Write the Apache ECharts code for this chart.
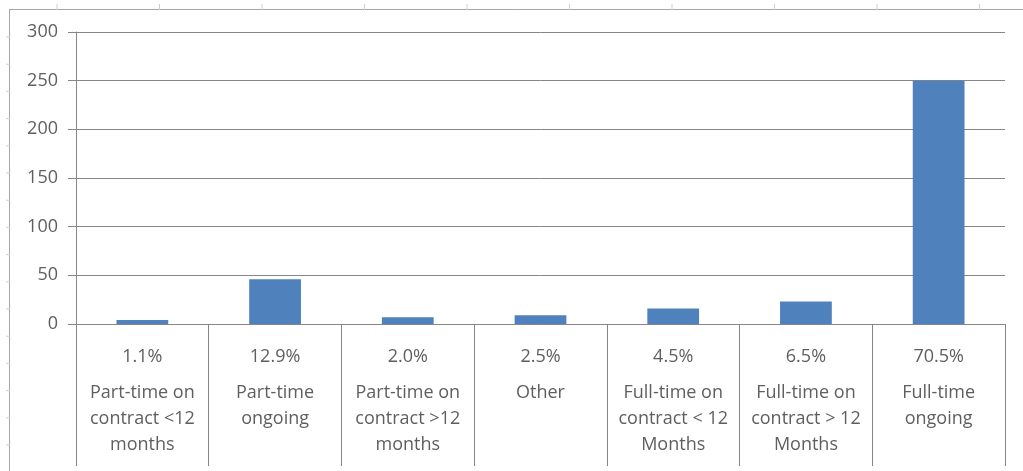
<!DOCTYPE html>
<html>
<head>
<meta charset="utf-8">
<script src="https://cdn.jsdelivr.net/npm/echarts@6/dist/echarts.min.js"></script>
<style>html,body{margin:0;padding:0;background:#fff}#c{width:1023px;height:471px}</style>
</head>
<body>
<div id="c"></div>
<script>
const categories = ["Part-time on\ncontract <12\nmonths", "Part-time\nongoing", "Part-time on\ncontract >12\nmonths", "Other", "Full-time on\ncontract < 12\nMonths", "Full-time on\ncontract > 12\nMonths", "Full-time\nongoing"];
const percents = ["1.1%", "12.9%", "2.0%", "2.5%", "4.5%", "6.5%", "70.5%"];
const values = [4, 46, 7, 9, 16, 23, 250];
const yTicks = [0, 50, 100, 150, 200, 250, 300];

const chart = echarts.init(document.getElementById('c'));
const FONT = '"Open Sans"';
const TXT = '#5f5f5f';
const LINE = '#868686';
const FS = 18;

const topTicks = [];
for (let i = 0; i < 10; i++) {
  const x = 57 + i * 102.5;
  topTicks.push({type:'line', shape:{x1:x,y1:4,x2:x,y2:10}, style:{stroke:'#d0d0d0', lineWidth:1}, silent:true});
}
const leftTicks = [];
for (let i = 0; i < 17; i++) {
  const y = 37 + i * 27.2;
  leftTicks.push({type:'line', shape:{x1:6,y1:y,x2:10,y2:y}, style:{stroke:'#d0d0d0', lineWidth:1}, silent:true});
}

chart.setOption({
  animation: false,
  backgroundColor: '#fff',
  textStyle: {fontFamily: FONT},
  grid: {left: 76, right: 18, top: 32, bottom: 147, containLabel: false},
  xAxis: {
    type: 'category',
    data: categories,
    boundaryGap: true,
    axisLine: {show: true, lineStyle: {color: LINE, width: 1}},
    axisTick: {show: true, length: 142, alignWithLabel: false, lineStyle: {color: LINE, width: 1}},
    axisLabel: {
      interval: 0,
      margin: 20,
      color: TXT,
      fontFamily: FONT,
      formatter: function (v, i) {
        const lines = v.split('\n').map(s => '{n|' + s + '}').join('\n');
        return '{p|' + percents[i] + '}\n{s| }\n' + lines;
      },
      rich: {
        p: {fontSize: FS, lineHeight: 26, color: TXT, fontFamily: FONT, align: 'center'},
        s: {fontSize: 1, lineHeight: 10},
        n: {fontSize: FS, lineHeight: 26, color: TXT, fontFamily: FONT, align: 'center'}
      }
    },
    splitLine: {show: false}
  },
  yAxis: {
    type: 'value',
    min: 0, max: 300, interval: 50,
    axisLine: {show: true, lineStyle: {color: LINE, width: 1}},
    axisTick: {show: true, length: 8, lineStyle: {color: LINE, width: 1}},
    axisLabel: {margin: 18, color: TXT, fontSize: FS, fontFamily: FONT,
      formatter: v => yTicks.includes(v) ? String(v) : ''},
    splitLine: {show: true, lineStyle: {color: LINE, width: 1}}
  },
  series: [{
    type: 'bar',
    data: values,
    barWidth: '39%',
    itemStyle: {color: '#4f81bd'},
    label: {show: false}
  }],
  graphic: [
    {type:'line', shape:{x1:10,y1:9.5,x2:1023,y2:9.5}, style:{stroke:'#a6a6a6', lineWidth:1}, silent:true},
    {type:'line', shape:{x1:9.5,y1:9,x2:9.5,y2:471}, style:{stroke:'#a6a6a6', lineWidth:1}, silent:true},
    ...topTicks,
    ...leftTicks
  ]
});
</script>
</body>
</html>
